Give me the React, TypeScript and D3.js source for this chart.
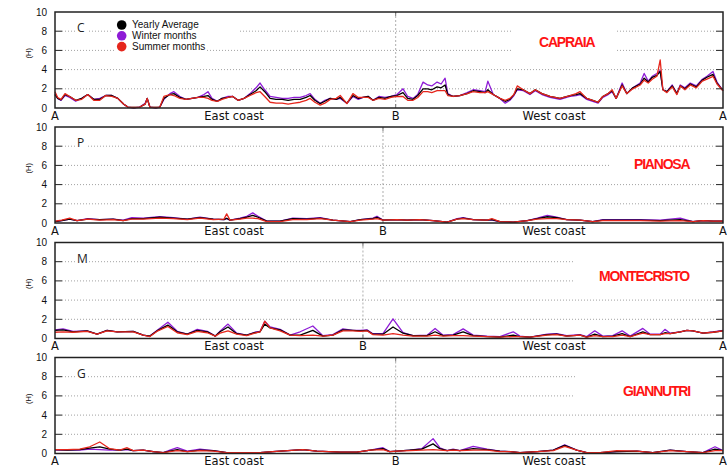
import React from 'react';
import * as d3 from 'd3';

// ---------- DATA (position along coastline, % from A to A; values in H) ----------
const CAPRAIA_POS = [0,0.4,0.9,1.5,2.2,3.1,4.0,4.9,5.8,6.7,7.6,8.5,9.4,10.3,10.9,11.8,12.7,13.5,13.8,14.2,15.1,15.7,16.3,17.2,17.8,18.7,19.6,20.5,21.4,22.3,22.9,23.5,24.3,25.0,25.9,26.6,27.4,28.3,29.2,30.1,30.7,31.4,32.2,33.1,34.0,34.9,35.8,36.7,37.6,38.2,38.9,39.7,40.4,41.2,42.1,42.7,43.7,44.6,45.4,46.1,46.9,47.6,48.5,49.4,50.3,51.2,52.1,52.8,53.6,54.3,55.1,55.8,56.4,57.2,57.8,58.4,58.8,59.6,60.6,61.7,62.6,63.6,64.4,64.8,65.6,66.6,67.4,68.1,68.7,69.2,70.1,71.1,71.9,72.9,74.1,75.6,77.1,78.0,78.6,79.6,80.5,81.3,82.0,82.8,83.4,84.0,84.9,85.6,86.5,87.6,88.2,88.8,89.4,90.1,90.6,91.0,91.6,92.4,93.1,93.6,94.3,95.1,96.0,96.9,97.6,98.5,99.1,100];
const CAPRAIA_YEARLY = [1.4,1.0,0.85,1.4,1.2,0.8,1.0,1.4,0.9,0.9,1.3,1.3,1.0,0.4,0.1,0.05,0.1,0.4,1.0,0.1,0.05,0.1,1.0,1.4,1.5,1.1,0.9,1.0,1.1,1.2,1.3,0.9,0.7,1.0,1.1,1.2,0.8,1.0,1.4,1.8,2.2,1.7,1.0,0.9,0.9,0.8,0.9,0.9,1.1,1.3,0.8,0.45,0.7,1.0,0.9,1.1,0.5,1.3,1.0,1.1,1.2,0.8,1.1,1.0,1.2,1.3,1.6,1.0,0.9,1.3,2.0,2.0,1.9,2.2,2.1,2.4,1.4,1.2,1.3,1.5,1.8,1.7,1.6,1.9,1.4,1.0,0.7,0.9,1.4,2.0,1.9,1.5,1.9,1.5,1.2,1.0,1.3,1.4,1.5,1.0,0.8,0.6,1.2,1.5,1.8,1.0,2.4,1.5,2.1,2.5,3.1,2.7,3.2,3.4,3.8,1.9,1.7,2.3,1.5,2.3,2.0,2.5,2.2,2.9,3.2,3.5,2.6,1.8];
const CAPRAIA_WINTER = [1.5,1.0,0.8,1.3,1.1,0.7,1.0,1.4,0.9,1.0,1.3,1.3,1.0,0.4,0.1,0,0.1,0.5,1.0,0.1,0,0.1,0.9,1.5,1.7,1.2,0.9,1.0,1.1,1.4,1.7,1.0,0.7,1.0,1.2,1.2,0.8,1.0,1.5,2.1,2.6,1.9,1.2,1.1,1.0,1.0,1.1,1.1,1.3,1.5,0.9,0.5,0.8,1.0,0.9,1.0,0.5,1.2,0.9,1.1,1.2,0.8,1.2,1.1,1.2,1.4,2.0,1.2,1.0,1.4,2.7,2.4,2.3,2.7,2.5,3.1,1.5,1.2,1.3,1.6,1.9,1.8,1.7,2.8,1.4,1.0,0.5,0.8,1.3,1.9,1.8,1.4,1.8,1.4,1.1,0.9,1.2,1.3,1.4,0.9,0.7,0.5,1.1,1.4,1.7,1.0,2.6,1.5,2.1,2.6,3.6,2.8,3.3,3.6,3.9,1.9,1.7,2.4,1.5,2.4,2.1,2.6,2.3,3.0,3.3,3.8,2.7,1.8];
const CAPRAIA_SUMMER = [1.7,1.1,0.9,1.5,1.2,0.8,0.9,1.4,0.8,0.8,1.3,1.2,1.0,0.4,0.1,0.05,0.1,0.4,1.0,0.1,0.05,0.1,1.2,1.4,1.3,1.0,0.9,1.0,1.1,1.1,1.0,0.8,0.7,0.9,1.1,1.2,0.8,1.0,1.3,1.6,1.7,1.2,0.6,0.5,0.5,0.4,0.5,0.6,0.8,1.0,0.6,0.3,0.5,0.9,1.0,1.3,0.45,1.5,1.1,1.1,1.1,0.8,1.0,0.9,1.1,1.2,1.2,0.8,0.8,1.1,1.7,1.7,1.6,1.8,1.8,1.8,1.3,1.2,1.3,1.5,1.7,1.6,1.6,1.7,1.4,1.0,0.8,1.0,1.4,2.3,1.9,1.5,1.9,1.5,1.2,1.0,1.3,1.5,1.7,1.0,0.8,0.6,1.2,1.5,1.9,1.0,2.3,1.5,2.0,2.4,2.9,2.6,3.0,3.3,5.0,1.9,1.6,2.2,1.4,2.3,1.9,2.4,2.1,2.8,3.0,3.3,2.5,1.8];

const PIANOSA_POS = [0,1.0,2.2,3.3,4.9,6.7,8.7,10.2,11.5,13.2,15.7,17.7,19.8,21.7,23.7,25.3,25.7,26.2,27.7,28.7,29.6,30.4,31.7,33.7,35.6,37.7,39.7,41.6,44.2,45.7,47.6,48.2,49.1,51.2,52.7,54.6,56.6,58.7,60.2,61.1,62.6,64.7,65.4,66.6,68.6,70.7,72.2,73.7,75.1,76.6,78.6,80.5,82.0,84.6,87.6,90.6,93.6,95.5,97.0,98.5,100];
const PIANOSA_YEARLY = [0.15,0.25,0.4,0.25,0.4,0.35,0.4,0.25,0.45,0.45,0.6,0.5,0.4,0.55,0.4,0.35,0.5,0.3,0.45,0.6,0.8,0.6,0.2,0.2,0.45,0.4,0.5,0.3,0.15,0.35,0.45,0.6,0.3,0.35,0.3,0.35,0.25,0.1,0.4,0.5,0.35,0.3,0.35,0.15,0.1,0.25,0.45,0.65,0.55,0.35,0.3,0.15,0.3,0.3,0.3,0.25,0.35,0.15,0.25,0.2,0.2];
const PIANOSA_WINTER = [0.15,0.25,0.4,0.25,0.45,0.35,0.4,0.3,0.55,0.5,0.65,0.55,0.4,0.6,0.4,0.35,0.45,0.3,0.5,0.7,1.05,0.7,0.2,0.2,0.5,0.45,0.55,0.3,0.15,0.35,0.5,0.7,0.3,0.35,0.3,0.35,0.25,0.1,0.45,0.55,0.35,0.3,0.3,0.15,0.1,0.25,0.5,0.8,0.6,0.35,0.3,0.15,0.35,0.35,0.35,0.3,0.5,0.15,0.25,0.2,0.2];
const PIANOSA_SUMMER = [0.2,0.3,0.5,0.25,0.4,0.3,0.35,0.25,0.4,0.4,0.5,0.45,0.35,0.5,0.35,0.4,0.95,0.3,0.4,0.5,0.5,0.45,0.15,0.15,0.35,0.35,0.45,0.3,0.15,0.3,0.4,0.45,0.3,0.35,0.3,0.35,0.25,0.1,0.4,0.45,0.35,0.3,0.45,0.15,0.1,0.25,0.4,0.45,0.45,0.35,0.3,0.15,0.25,0.25,0.25,0.2,0.25,0.15,0.25,0.2,0.2];

const MONTECRISTO_POS = [0,1.2,2.7,4.8,6.3,7.8,9.3,11.7,13.2,14.2,15.4,16.9,18.3,19.8,21.3,22.8,24.0,24.7,25.9,27.2,28.7,29.9,30.7,31.4,32.2,33.7,35.2,36.7,38.6,40.1,41.6,43.1,44.6,45.7,46.7,47.6,49.1,50.6,52.1,53.6,55.7,56.9,58.1,59.6,61.1,62.6,64.7,66.6,68.6,69.6,71.1,73.7,75.1,76.6,78.6,79.6,80.8,82.0,83.5,84.9,86.1,88.0,89.1,90.6,91.3,92.1,93.6,94.6,95.5,97.0,98.5,100];
const MONTECRISTO_YEARLY = [0.85,0.9,0.7,0.8,0.45,0.85,0.7,0.75,0.35,0.25,0.85,1.4,0.7,0.45,0.85,0.7,0.25,0.7,1.2,0.5,0.35,0.6,0.7,1.5,1.1,0.9,0.35,0.35,0.85,0.25,0.35,0.9,0.85,0.8,0.85,0.45,0.45,1.2,0.55,0.3,0.3,0.7,0.3,0.35,0.7,0.3,0.2,0.15,0.35,0.2,0.15,0.4,0.45,0.25,0.35,0.15,0.45,0.2,0.25,0.5,0.2,0.7,0.4,0.4,0.6,0.5,0.7,0.85,0.8,0.55,0.65,0.8];
const MONTECRISTO_WINTER = [0.9,1.0,0.75,0.8,0.45,0.85,0.7,0.75,0.35,0.25,0.9,1.7,0.75,0.45,0.95,0.75,0.25,0.75,1.5,0.55,0.35,0.65,0.75,1.8,1.2,0.95,0.35,0.7,1.3,0.3,0.4,1.0,0.85,0.85,0.9,0.5,0.5,2.05,0.6,0.3,0.35,1.05,0.35,0.4,1.0,0.35,0.25,0.2,0.7,0.25,0.15,0.45,0.5,0.3,0.4,0.2,0.8,0.25,0.3,0.8,0.25,1.05,0.45,0.45,0.95,0.55,0.7,0.85,0.8,0.55,0.7,0.85];
const MONTECRISTO_SUMMER = [0.65,0.7,0.65,0.75,0.45,0.8,0.7,0.7,0.35,0.2,0.8,1.25,0.6,0.4,0.75,0.6,0.25,0.55,0.8,0.45,0.3,0.55,0.7,1.8,1.1,0.8,0.35,0.3,0.35,0.25,0.35,0.8,0.8,0.75,0.8,0.4,0.35,0.5,0.35,0.25,0.25,0.35,0.25,0.3,0.3,0.25,0.2,0.15,0.2,0.2,0.15,0.35,0.4,0.25,0.35,0.15,0.3,0.2,0.2,0.35,0.2,0.55,0.4,0.4,0.5,0.5,0.7,0.85,0.8,0.55,0.65,0.8];

const GIANNUTRI_POS = [0,1.8,3.7,5.2,6.7,8.2,9.7,10.8,11.7,13.2,14.7,16.2,17.2,18.3,19.8,21.7,23.7,25.7,27.7,30.7,32.6,37.1,39.2,42.7,45.2,47.2,49.1,50.1,51.2,53.1,54.9,56.6,57.6,58.7,59.6,60.6,62.6,64.7,66.6,68.1,69.6,72.2,74.6,76.3,78.1,79.6,81.6,84.1,87.1,89.5,92.1,94.6,97.0,98.8,100];
const GIANNUTRI_YEARLY = [0.4,0.35,0.4,0.55,0.7,0.45,0.35,0.45,0.3,0.35,0.2,0.1,0.25,0.4,0.2,0.35,0.3,0.1,0.08,0.1,0.2,0.4,0.25,0.15,0.15,0.35,0.5,0.2,0.25,0.35,0.45,1.0,0.5,0.3,0.4,0.3,0.5,0.4,0.25,0.2,0.1,0.2,0.35,0.85,0.35,0.1,0.1,0.2,0.25,0.1,0.35,0.2,0.1,0.45,0.3];
const GIANNUTRI_WINTER = [0.35,0.35,0.35,0.45,0.4,0.35,0.35,0.4,0.3,0.35,0.2,0.1,0.35,0.6,0.25,0.45,0.3,0.1,0.08,0.1,0.2,0.4,0.25,0.15,0.15,0.35,0.6,0.2,0.25,0.35,0.5,1.55,0.6,0.3,0.45,0.3,0.75,0.45,0.25,0.2,0.1,0.2,0.35,0.9,0.35,0.1,0.1,0.2,0.25,0.1,0.35,0.2,0.1,0.7,0.3];
const GIANNUTRI_SUMMER = [0.4,0.4,0.45,0.7,1.2,0.5,0.35,0.6,0.3,0.35,0.2,0.1,0.2,0.3,0.2,0.3,0.25,0.1,0.08,0.1,0.2,0.4,0.25,0.15,0.15,0.35,0.4,0.2,0.25,0.3,0.35,0.4,0.35,0.3,0.35,0.3,0.35,0.35,0.2,0.2,0.1,0.2,0.3,0.75,0.35,0.1,0.1,0.3,0.25,0.1,0.3,0.2,0.1,0.3,0.3];

const ISLANDS = ['CAPRAIA', 'PIANOSA', 'MONTECRISTO', 'GIANNUTRI'];
const LETTERS = ['C', 'P', 'M', 'G'];
const B_POSITIONS = [51.0, 49.1, 46.1, 51.0];
const Y_TICKS = [0, 2, 4, 6, 8, 10];
const GRID_VALUES = [2, 4, 6, 8];
const SERIES_NAMES = ['Yearly Average', 'Winter months', 'Summer months'];
const COAST_LABELS = [{ text: 'East coast', pos: 26.8 }, { text: 'West coast', pos: 74.7 }];

// ---------- LAYOUT ----------
const W = 727, H = 467;
const LEFT = 55, RIGHT = 723, PH = 96;
const TOPS = [12, 127, 242.5, 357.5];
const C_BLACK = '#000000', C_WINTER = '#8E1BD6', C_SUMMER = '#E5261C';
const LABEL_X = [539, 634, 599, 623];
const LABEL_DY = [34.5, 42.3, 38.3, 38];
const GAPS: Record<number, [number, number][]>[] = [
  { 8: [[76, 89], [113, 240], [513, 617]], 6: [[115, 207], [513, 617]] },
  { 8: [[76, 88]], 6: [[610, 717]] },
  { 8: [[76, 89], [575, 717]], 6: [[575, 717]] },
  { 8: [[76, 88], [575, 717]], 6: [[575, 717]] },
];

const PANELS = [
  { pos: CAPRAIA_POS, yearly: CAPRAIA_YEARLY, winter: CAPRAIA_WINTER, summer: CAPRAIA_SUMMER },
  { pos: PIANOSA_POS, yearly: PIANOSA_YEARLY, winter: PIANOSA_WINTER, summer: PIANOSA_SUMMER },
  { pos: MONTECRISTO_POS, yearly: MONTECRISTO_YEARLY, winter: MONTECRISTO_WINTER, summer: MONTECRISTO_SUMMER },
  { pos: GIANNUTRI_POS, yearly: GIANNUTRI_YEARLY, winter: GIANNUTRI_WINTER, summer: GIANNUTRI_SUMMER },
];

function segments(x0: number, x1: number, gaps: [number, number][]) {
  const segs: [number, number][] = [];
  let cur = x0;
  const sorted = [...gaps].sort((a, b) => a[0] - b[0]);
  for (const [a, b] of sorted) {
    if (a > cur) segs.push([cur, Math.min(a, x1)]);
    cur = Math.max(cur, b);
  }
  if (cur < x1) segs.push([cur, x1]);
  return segs;
}

function Panel({ idx }: { idx: number }) {
  const top = TOPS[idx];
  const bottom = top + PH;
  const p = PANELS[idx];
  const x = d3.scaleLinear().domain([0, 100]).range([LEFT, RIGHT]);
  const y = d3.scaleLinear().domain([0, 10]).range([bottom, top]);
  const line = (vals: number[]) =>
    d3.line<number>().x((_, i) => x(p.pos[i])).y((v) => y(v))(vals) || '';
  const xb = x(B_POSITIONS[idx]);
  const gaps = GAPS[idx];
  const labelFont = "'DejaVu Sans', Verdana, sans-serif";
  return (
    <g>
      {GRID_VALUES.map((v) =>
        segments(LEFT + 7, RIGHT - 7, gaps[v] || []).map(([a, b], k) => (
          <line key={`g${v}-${k}`} x1={a} x2={b} y1={y(v)} y2={y(v)} stroke="#8a8a8a" strokeWidth={0.8} strokeDasharray="1,2" />
        ))
      )}
      <line x1={xb} x2={xb} y1={top} y2={bottom} stroke="#999" strokeWidth={0.8} strokeDasharray="2,2" />
      <line x1={xb} x2={xb} y1={top} y2={top + 4} stroke="#777" strokeWidth={1} />
      <line x1={xb} x2={xb} y1={bottom - 4} y2={bottom} stroke="#777" strokeWidth={1} />
      <path d={line(p.winter)} fill="none" stroke={C_WINTER} strokeWidth={1.3} strokeLinejoin="round" />
      <path d={line(p.yearly)} fill="none" stroke={C_BLACK} strokeWidth={1.3} strokeLinejoin="round" />
      <path d={line(p.summer)} fill="none" stroke={C_SUMMER} strokeWidth={1.3} strokeLinejoin="round" />
      <rect x={LEFT} y={top} width={RIGHT - LEFT} height={PH} fill="none" stroke="#222" strokeWidth={1.5} />
      {GRID_VALUES.map((v) => (
        <g key={`t${v}`}>
          <line x1={LEFT} x2={LEFT + 7} y1={y(v)} y2={y(v)} stroke="#222" strokeWidth={1} />
          <line x1={RIGHT - 7} x2={RIGHT} y1={y(v)} y2={y(v)} stroke="#222" strokeWidth={1} />
        </g>
      ))}
      {Y_TICKS.map((v) => (
        <text key={`l${v}`} x={47} y={y(v)} dy="0.35em" textAnchor="end" fontSize={10} fill="#111">{v}</text>
      ))}
      <text transform={`translate(31,${y(5.7)}) rotate(-90)`} textAnchor="middle" fontSize={7.5} fill="#111">(H)</text>
      <text x={77} y={top + 20} fontSize={12} fontFamily="'Open Sans', sans-serif" fill="#222">{LETTERS[idx]}</text>
      <text x={LABEL_X[idx]} y={top + LABEL_DY[idx]} fontSize={14} fontWeight="bold" letterSpacing={-1.2} fill="#FF1414">{ISLANDS[idx]}</text>
      <g fontFamily={labelFont} fontSize={11.5} fill="#111" textAnchor="middle">
        <text x={x(0)} y={bottom + 11.5}>A</text>
        <text x={x(100)} y={bottom + 11.5}>A</text>
        <text x={xb} y={bottom + 11.5}>B</text>
        {COAST_LABELS.map((c) => (
          <text key={c.text} x={x(c.pos)} y={bottom + 11.5}>{c.text}</text>
        ))}
      </g>
      {idx === 0 && (
        <g fontSize={10} fill="#111">
          {SERIES_NAMES.map((s, k) => (
            <g key={s}>
              <circle cx={121.7} cy={top + 13 + k * 10.8} r={4.8} fill={[C_BLACK, C_WINTER, C_SUMMER][k]} />
              <text x={132} y={top + 16.3 + k * 10.8}>{s}</text>
            </g>
          ))}
        </g>
      )}
    </g>
  );
}

export default function App() {
  return (
    <svg width={W} height={H} style={{ position: 'absolute', left: 0, top: 0, background: '#fff' }}
      fontFamily="'Liberation Sans', Arial, sans-serif">
      <rect width={W} height={H} fill="#fff" />
      {PANELS.map((_, i) => <Panel key={i} idx={i} />)}
    </svg>
  );
}
